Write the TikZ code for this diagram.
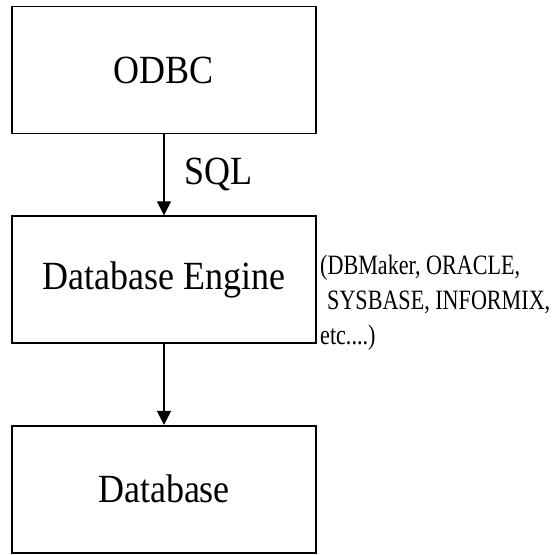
\documentclass[tikz,border=0pt]{standalone}
\usepackage{fontspec}
\setmainfont{Liberation Serif}[FakeStretch=0.9]
\newfontfamily\notefont{Liberation Serif}[FakeStretch=0.79]
\usetikzlibrary{positioning, arrows.meta}

\begin{document}
\begin{tikzpicture}[
    x=1pt, y=-1pt,
    node distance=81pt,
    layer/.style={rectangle, draw, line width=1.6pt, minimum width=304pt, minimum height=127pt, font=\fontsize{40}{46}\selectfont},
    arrow/.style={-{Triangle[length=14pt, width=14pt]}, line width=1.3pt},
    note/.style={align=left, inner sep=0pt, font=\notefont\fontsize{28}{35}\selectfont}
]
\useasboundingbox (0,0) rectangle (559,554);
\node[layer] (odbc) at (164,70) {ODBC};
\node[layer, below=of odbc] (engine) {Database Engine};
\node[layer, below=of engine] (db) {Database};
\node[note, anchor=north west] (vendors) at (320,255) {(DBMaker, ORACLE,\\\hspace*{7pt}SYSBASE, INFORMIX,\\etc....)};

\draw[arrow] (odbc) -- node[right=20pt, inner sep=0pt, font=\fontsize{40}{46}\selectfont] (sql) {SQL} (engine);
\draw[arrow] (engine) -- (db);
\end{tikzpicture}
\end{document}
